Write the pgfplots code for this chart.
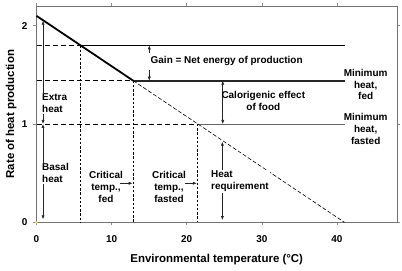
\documentclass[border=0pt]{standalone}
\usepackage{fontspec}
\setmainfont{Liberation Sans}
\usepackage{pgfplots}
\pgfplotsset{compat=1.18}
\usetikzlibrary{arrows.meta}

% Slope of the heat-requirement line: 2.1 at 0 degC, 0 at 41 degC
\pgfplotstableread{
x     y
0     2.1
12.886 1.44
}\thickpart
\pgfplotstableread{
x     y
12.886 1.44
41    0
}\dashpart

\tikzset{
  lbl/.style={font=\fontsize{10}{12}\selectfont\bfseries, inner sep=0pt},
  arr/.style={line width=0.7pt, black!85, -{Latex[length=4bp,width=3.2bp]}},
  darr/.style={line width=0.7pt, black!85, {Latex[length=4bp,width=3.2bp]}-{Latex[length=4bp,width=3.2bp]}},
}

\begin{document}
\begin{tikzpicture}
\useasboundingbox (-36.5bp,-48.7bp) rectangle (365.5bp,222.3bp);
\begin{axis}[
  at={(0,0)}, anchor=south west,
  scale only axis, width=360.5bp, height=216.3bp,
  xmin=0, xmax=48, ymin=0, ymax=2.2,
  xtick={0,10,20,30,40}, ytick={0,1,2},
  tick align=outside, major tick length=3bp,
  tick style={black!45, line width=0.6pt},
  axis line style={black!55, line width=0.8pt},
  /pgf/number format/assume math mode=true,
  tick label style={font=\fontsize{10}{12}\selectfont\bfseries},
  yticklabel style={xshift=-2.5bp},
  xticklabel style={yshift=-6.5bp},
  xlabel={Environmental temperature (°C)},
  ylabel={Rate of heat production},
  xlabel style={yshift=-5bp},
  ylabel style={yshift=-1.5bp},
  label style={font=\fontsize{11.5}{13}\selectfont\bfseries},
  clip=false,
]
% levels: gain line, minimum heat fed, minimum heat fasted
\addplot[black, line width=0.9pt, dash pattern=on 5bp off 3bp] coordinates {(0,1.8) (5.857,1.8)};
\addplot[black, line width=0.7pt] coordinates {(5.857,1.8) (41.1,1.8)};
\addplot[black, line width=0.9pt, dash pattern=on 5bp off 3bp] coordinates {(0,1.44) (12.886,1.44)};
\addplot[black!85, line width=2pt] coordinates {(12.886,1.44) (41.1,1.44)};
\addplot[black, line width=0.9pt, dash pattern=on 5bp off 3bp] coordinates {(0,1.0) (21.476,1.0)};
\addplot[black!60, line width=0.7pt] coordinates {(21.476,1.0) (41.1,1.0)};
% critical temperatures
\addplot[black, line width=0.8pt, dash pattern=on 2.5bp off 1.7bp] coordinates {(5.857,1.8) (5.857,0)};
\addplot[black, line width=0.8pt, dash pattern=on 2.5bp off 1.7bp] coordinates {(12.886,1.44) (12.886,0)};
\addplot[black, line width=0.8pt, dash pattern=on 2.5bp off 1.7bp] coordinates {(21.476,1.0) (21.476,0)};
% heat production against temperature
\addplot[black, line width=1.8pt] table[x=x,y=y] {\thickpart};
\addplot[black, line width=0.6pt, dash pattern=on 4bp off 2bp] table[x=x,y=y] {\dashpart};
\addplot[only marks, mark=asterisk, mark size=1.5bp, color=yellow!60!white] coordinates {(0,0)};

% arrows and annotations
\draw[darr] (axis cs:0.87,2.05) -- (axis cs:0.87,1.0);
\draw[darr] (axis cs:0.87,1.0) -- (axis cs:0.87,0.03);
\node[lbl, fill=white, inner sep=1bp, anchor=west, align=left] at (axis cs:0.6,1.21) {Extra\\heat};
\node[lbl, fill=white, inner sep=1bp, anchor=west, align=left] at (axis cs:0.6,0.50) {Basal\\heat};

\draw[arr] (axis cs:15.02,1.72) -- (axis cs:15.02,1.8);
\draw[arr] (axis cs:15.02,1.55) -- (axis cs:15.02,1.44);
\node[lbl, anchor=west] at (axis cs:15.18,1.643) {Gain = Net energy of production};

\draw[darr] (axis cs:24.8,1.44) -- (axis cs:24.8,1.0);
\node[lbl, align=center] at (axis cs:30.2,1.239) {Calorigenic effect\\of food};

\draw[darr] (axis cs:24.75,0.82) -- (axis cs:24.75,0.023);
\node[lbl, fill=white, inner sep=1bp, anchor=west, align=left] at (axis cs:23.1,0.417) {Heat\\requirement};

\node[lbl, align=center] at (axis cs:9.25,0.356) {Critical\\temp.,\\fed};
\draw[arr] (axis cs:11.1,0.397) -- (axis cs:12.8,0.397);
\node[lbl, align=center] at (axis cs:17.64,0.364) {Critical\\temp.,\\fasted};
\draw[arr] (axis cs:19.8,0.397) -- (axis cs:21.35,0.397);

\node[lbl, align=center] at (axis cs:43.83,1.402) {Minimum\\heat,\\fed};
\node[lbl, align=center] at (axis cs:43.83,0.946) {Minimum\\heat,\\fasted};
\end{axis}
\end{tikzpicture}
\end{document}
